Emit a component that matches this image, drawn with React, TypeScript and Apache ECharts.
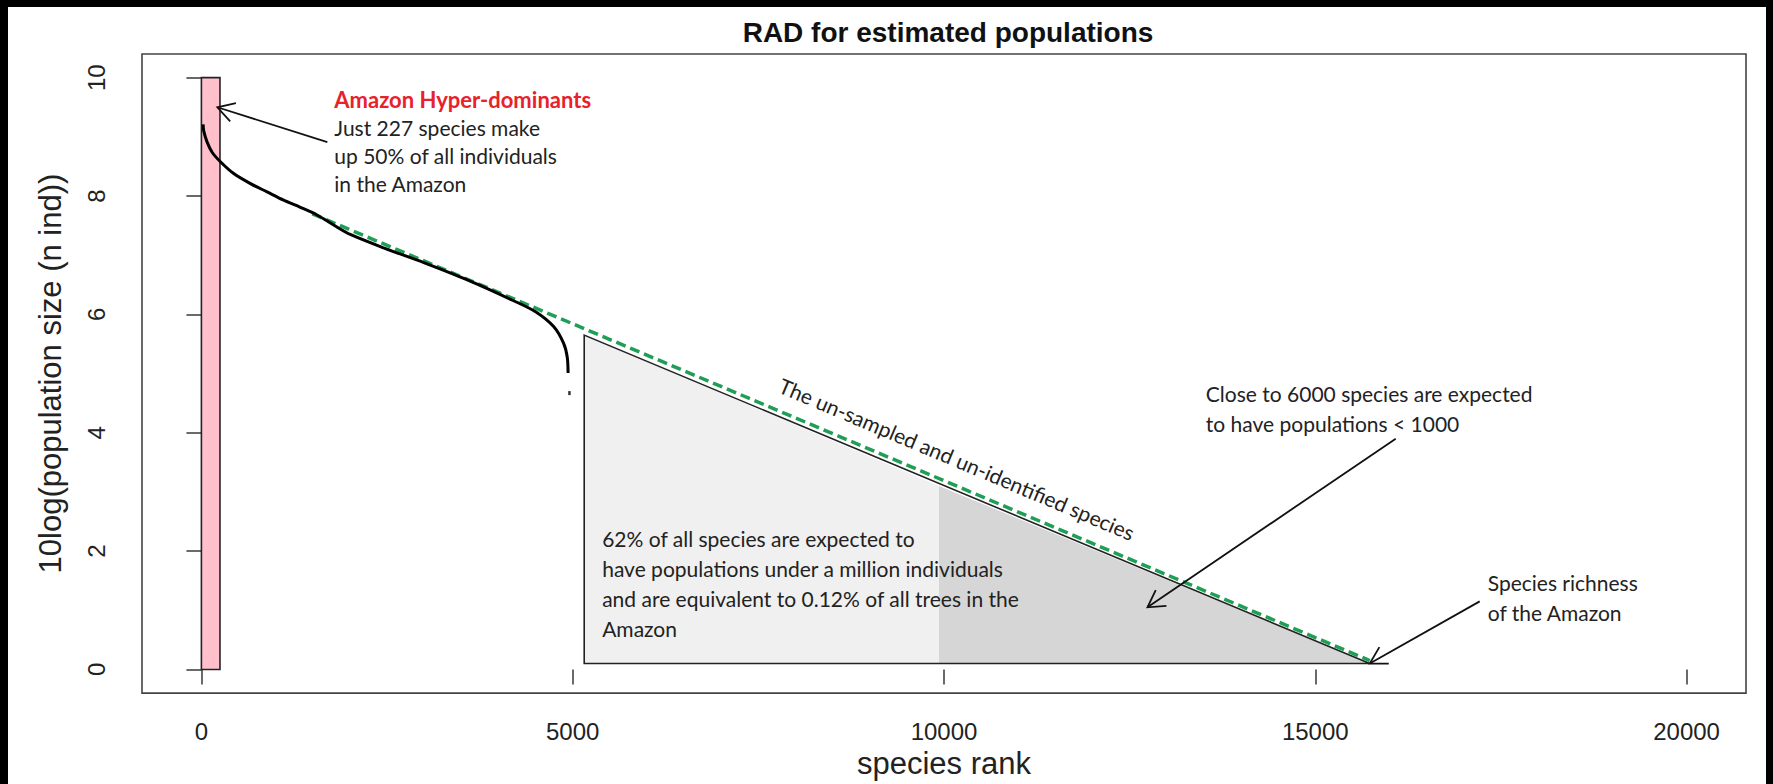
import React, { useEffect, useRef } from "react";
import * as echarts from "echarts";

// ---------- data ----------
const xTicks = [0, 5000, 10000, 15000, 20000];
const yTicks = [0, 2, 4, 6, 8, 10];

// observed rank-abundance curve (species rank, 10log population size)
const curveRank = [23, 31, 77, 144, 256, 435, 660, 884, 1107, 1333, 1557, 1781, 2005, 2462, 3003, 3604, 4205, 4505, 4746, 4878, 4926, 4938];
const curveLog = [9.21, 9.1, 8.91, 8.74, 8.58, 8.38, 8.21, 8.07, 7.93, 7.81, 7.68, 7.51, 7.35, 7.12, 6.87, 6.57, 6.23, 6.04, 5.79, 5.51, 5.28, 5.01];
const dropRank = [4956];
const dropLog = [4.67];

// fitted extrapolation (green dashed)
const fitRank = [1494, 15733];
const fitLog = [7.7, 0.15];

// hyper-dominant bar
const hyperRank = [0, 250];
const hyperLog = [0, 10];

// un-sampled triangle, light and dark parts
const lightRank = [5155, 5155, 9933, 9933];
const lightLog = [0.1, 5.65, 3.1, 0.1];
const darkRank = [9933, 9933, 15733];
const darkLog = [0.1, 3.1, 0.1];
const outlineRank = [15733, 5155, 5155, 15733];
const outlineLog = [0.1, 0.1, 5.65, 0.1];

// arrows (tail -> tip)
const arrowFromRank = [1696, 16083, 17214];
const arrowFromLog = [8.91, 3.9, 1.15];
const arrowToRank = [215, 12740, 15733];
const arrowToLog = [9.5, 1.05, 0.1];

// annotations
const headlineText = "Amazon Hyper-dominants";
const headlineRank = [1790];
const headlineLog = [9.63];
const noteTexts = [
  "Just 227 species make\nup 50% of all individuals\nin the Amazon",
  "62% of all species are expected to\nhave populations under a million individuals\nand are equivalent to 0.12% of all trees in the\nAmazon",
  "Close to 6000 species are expected\nto have populations < 1000",
  "Species richness\nof the Amazon",
];
const noteRank = [1790, 5397, 13526, 17322];
const noteLog = [9.16, 2.22, 4.67, 1.47];
const slopeText = "The un-sampled and un-identified species";
const slopeRank = [10175];
const slopeLog = [3.56];

const NOTE_LH = [28, 30, 30, 30];
const NOTE_FONT = "Lato";
const R_FONT = "'Liberation Sans', Arial, sans-serif";

export default function App() {
  const ref = useRef<HTMLDivElement>(null);

  useEffect(() => {
    if (!ref.current) return;
    const chart = echarts.init(ref.current, undefined, { renderer: "svg" });

    const polyItem = (rs: number[], ls: number[]) => rs.map((r, i) => [r, ls[i]]);

    const option: any = {
      animation: false,
      backgroundColor: "#ffffff",
      title: {
        text: "RAD for estimated populations",
        left: 940,
        top: 11,
        textAlign: "center",
        padding: 0,
        textStyle: { fontFamily: R_FONT, fontWeight: "bold", fontSize: 28, color: "#111" },
      },
      grid: {
        left: 134,
        right: 20,
        top: 47,
        bottom: 83,
        show: true,
        borderColor: "#444",
        borderWidth: 1.6,
        backgroundColor: "transparent",
      },
      xAxis: {
        type: "value",
        min: -800,
        max: 20800,
        name: "species rank",
        nameLocation: "middle",
        nameGap: 42,
        nameTextStyle: { fontFamily: R_FONT, fontSize: 31, color: "#222" },
        axisLine: { show: false },
        splitLine: { show: false },
        axisTick: { show: true, length: 15, inside: false, customValues: xTicks, lineStyle: { color: "#444", width: 1.6 } },
        axisLabel: {
          customValues: xTicks,
          formatter: (v: number) => String(v),
          fontFamily: R_FONT,
          fontSize: 24,
          color: "#222",
          margin: 26,
        },
      },
      yAxis: {
        type: "value",
        min: -0.4,
        max: 10.4,
        name: "10log(population size (n ind))",
        nameLocation: "middle",
        nameGap: 76,
        nameRotate: 90,
        nameTextStyle: { fontFamily: R_FONT, fontSize: 31, color: "#222" },
        axisLine: { show: false },
        splitLine: { show: false },
        axisTick: { show: true, length: 15, inside: false, customValues: yTicks, lineStyle: { color: "#444", width: 1.6 } },
        axisLabel: {
          customValues: yTicks,
          formatter: (v: number) => String(v),
          rotate: 90,
          fontFamily: R_FONT,
          fontSize: 24,
          color: "#222",
          margin: 34,
        },
      },
      series: [
        {
          type: "custom",
          name: "unsampled",
          z: 1,
          silent: true,
          data: [[0], [1], [2]],
          renderItem: (params: any, api: any) => {
            const idx = api.value(0);
            if (idx === 0) {
              return {
                type: "polygon",
                shape: { points: polyItem(lightRank, lightLog).map((p) => api.coord(p)) },
                style: { fill: "#f0f0f0", stroke: "none" },
              };
            }
            if (idx === 1) {
              return {
                type: "polygon",
                shape: { points: polyItem(darkRank, darkLog).map((p) => api.coord(p)) },
                style: { fill: "#d6d6d6", stroke: "none" },
              };
            }
            return {
              type: "polyline",
              shape: { points: polyItem(outlineRank, outlineLog).map((p) => api.coord(p)) },
              style: { fill: "none", stroke: "#222", lineWidth: 1.6 },
            };
          },
        },
        {
          type: "custom",
          name: "hyper",
          z: 2,
          silent: true,
          data: [[hyperRank[0], hyperLog[0], hyperRank[1], hyperLog[1]]],
          renderItem: (params: any, api: any) => {
            const a = api.coord([api.value(0), api.value(1)]);
            const b = api.coord([api.value(2), api.value(3)]);
            return {
              type: "rect",
              shape: { x: a[0], y: b[1], width: b[0] - a[0], height: a[1] - b[1] },
              style: { fill: "#ffc0cb", stroke: "#222", lineWidth: 1.6 },
            };
          },
        },
        {
          type: "line",
          name: "fit",
          z: 4,
          silent: true,
          symbol: "none",
          data: fitRank.map((r, i) => [r, fitLog[i]]),
          lineStyle: { color: "#1f9e55", width: 3.5, type: [10, 5] },
        },
        {
          type: "line",
          name: "observed",
          z: 5,
          silent: true,
          symbol: "none",
          smooth: 0.3,
          data: curveRank.map((r, i) => [r, curveLog[i]]),
          lineStyle: { color: "#000", width: 3 },
        },
        {
          type: "scatter",
          name: "observed tail",
          z: 5,
          silent: true,
          symbol: "rect",
          symbolSize: [2.5, 4],
          data: dropRank.map((r, i) => [r, dropLog[i]]),
          itemStyle: { color: "#000" },
        },
        {
          type: "custom",
          name: "arrows",
          z: 6,
          silent: true,
          data: arrowFromRank.map((r, i) => [r, arrowFromLog[i], arrowToRank[i], arrowToLog[i]]),
          renderItem: (params: any, api: any) => {
            const t = api.coord([api.value(0), api.value(1)]);
            const h = api.coord([api.value(2), api.value(3)]);
            const ang = Math.atan2(t[1] - h[1], t[0] - h[0]);
            const L = 19;
            const sp = (30 * Math.PI) / 180;
            const p1 = [h[0] + L * Math.cos(ang + sp), h[1] + L * Math.sin(ang + sp)];
            const p2 = [h[0] + L * Math.cos(ang - sp), h[1] + L * Math.sin(ang - sp)];
            return {
              type: "group",
              children: [
                { type: "line", shape: { x1: t[0], y1: t[1], x2: h[0], y2: h[1] }, style: { stroke: "#111", lineWidth: 1.8 } },
                { type: "polyline", shape: { points: [p1, h, p2] }, style: { stroke: "#111", lineWidth: 1.8, fill: "none" } },
              ],
            };
          },
        },
        {
          type: "custom",
          name: "notes",
          z: 7,
          silent: true,
          data: noteRank.map((r, i) => [r, noteLog[i], i]),
          renderItem: (params: any, api: any) => {
            const i = api.value(2);
            const p = api.coord([api.value(0), api.value(1)]);
            const lh = NOTE_LH[i];
            return {
              type: "text",
              x: p[0],
              y: p[1] - lh / 2,
              style: {
                text: noteTexts[i],
                fill: "#222",
                fontFamily: NOTE_FONT,
                fontSize: 21,
                lineHeight: lh,
                align: "left",
                verticalAlign: "top",
              },
            };
          },
        },
        {
          type: "custom",
          name: "headline",
          z: 7,
          silent: true,
          data: headlineRank.map((r, i) => [r, headlineLog[i]]),
          renderItem: (params: any, api: any) => {
            const p = api.coord([api.value(0), api.value(1)]);
            return {
              type: "text",
              x: p[0],
              y: p[1],
              style: {
                text: headlineText,
                fill: "#e8212b",
                fontFamily: NOTE_FONT,
                fontWeight: "bold",
                fontSize: 22,
                align: "left",
                verticalAlign: "middle",
              },
            };
          },
        },
        {
          type: "custom",
          name: "slope label",
          z: 7,
          silent: true,
          data: slopeRank.map((r, i) => [r, slopeLog[i]]),
          renderItem: (params: any, api: any) => {
            const p = api.coord([api.value(0), api.value(1)]);
            const a = api.coord([fitRank[0], fitLog[0]]);
            const b = api.coord([fitRank[1], fitLog[1]]);
            const ang = Math.atan2(b[1] - a[1], b[0] - a[0]);
            return {
              type: "text",
              x: p[0],
              y: p[1],
              rotation: -ang,
              style: {
                text: slopeText,
                fill: "#222",
                fontFamily: NOTE_FONT,
                fontSize: 21,
                align: "center",
                verticalAlign: "middle",
              },
            };
          },
        },
      ],
    };

    chart.setOption(option);
    return () => chart.dispose();
  }, []);

  return (
    <div style={{ position: "absolute", left: 0, top: 0, width: 1773, height: 784, background: "#000" }}>
      <div
        ref={ref}
        style={{ position: "absolute", left: 8, top: 7, width: 1758, height: 777, background: "#fff" }}
      />
    </div>
  );
}
